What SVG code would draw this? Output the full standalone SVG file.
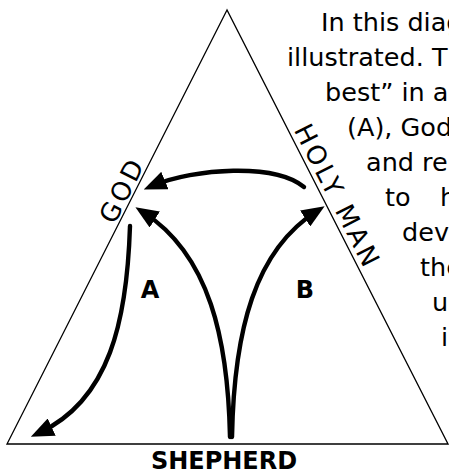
<svg xmlns="http://www.w3.org/2000/svg" width="449" height="474" viewBox="0 0 449 474">
  <style>
    .edge { fill: none; stroke: #000; stroke-width: 1.3; stroke-linejoin: miter; }
    .arrow { fill: none; stroke: #000; stroke-width: 4.4; stroke-linecap: round; marker-end: url(#head); }
    .body { font-family: "DejaVu Sans", sans-serif; font-size: 25.5px; fill: #000; }
    .vertex { font-family: "DejaVu Sans", sans-serif; font-size: 26px; letter-spacing: 3px; fill: #000; text-anchor: middle; }
    .bold { font-family: "DejaVu Sans", sans-serif; font-weight: bold; font-size: 24px; fill: #000; text-anchor: middle; }
  </style>
  <defs>
    <marker id="head" markerUnits="userSpaceOnUse" markerWidth="23" markerHeight="19" viewBox="0 0 23 19" refX="14" refY="9.5" orient="auto">
      <path d="M0,0 L23,9.5 L0,19 Z" fill="#000"/>
    </marker>
  </defs>
  <rect width="449" height="474" fill="#fff"/>

  <g id="triangle">
    <polygon class="edge" points="227,10 7,444 448,444"/>
  </g>

  <g id="node-god">
    <text class="vertex" transform="translate(130.2,194.1) rotate(-63.1)">GOD</text>
  </g>
  <g id="node-holyman">
    <text class="vertex" transform="translate(329.5,200.6) rotate(63)">HOLY MAN</text>
  </g>
  <g id="node-shepherd">
    <text class="bold" x="224" y="469" font-size="25">SHEPHERD</text>
  </g>
  <g id="label-a">
    <text class="bold" x="150" y="298">A</text>
  </g>
  <g id="label-b">
    <text class="bold" x="305" y="298">B</text>
  </g>

  <g id="connectors">
    <path class="arrow" d="M304,187 C275,163 195,168 152,186"/>
    <path class="arrow" d="M230,437 C228,340 210,255 143,212"/>
    <path class="arrow" d="M232,437 C234,330 255,250 317,211"/>
    <path class="arrow" d="M130,226 C127,320 110,400 39,433"/>
  </g>

  <g id="paragraph" class="body">
    <text x="321" y="31">In this diag</text>
    <text x="287" y="66">illustrated. Th</text>
    <text x="325" y="101">best” in a</text>
    <text x="347" y="136">(A), God</text>
    <text x="366" y="171">and re</text>
    <text y="206"><tspan x="385">to</tspan><tspan x="440">h</tspan></text>
    <text x="402" y="241">dev</text>
    <text x="420" y="276">the</text>
    <text x="432" y="311">us</text>
    <text x="441" y="346">i</text>
  </g>
</svg>
